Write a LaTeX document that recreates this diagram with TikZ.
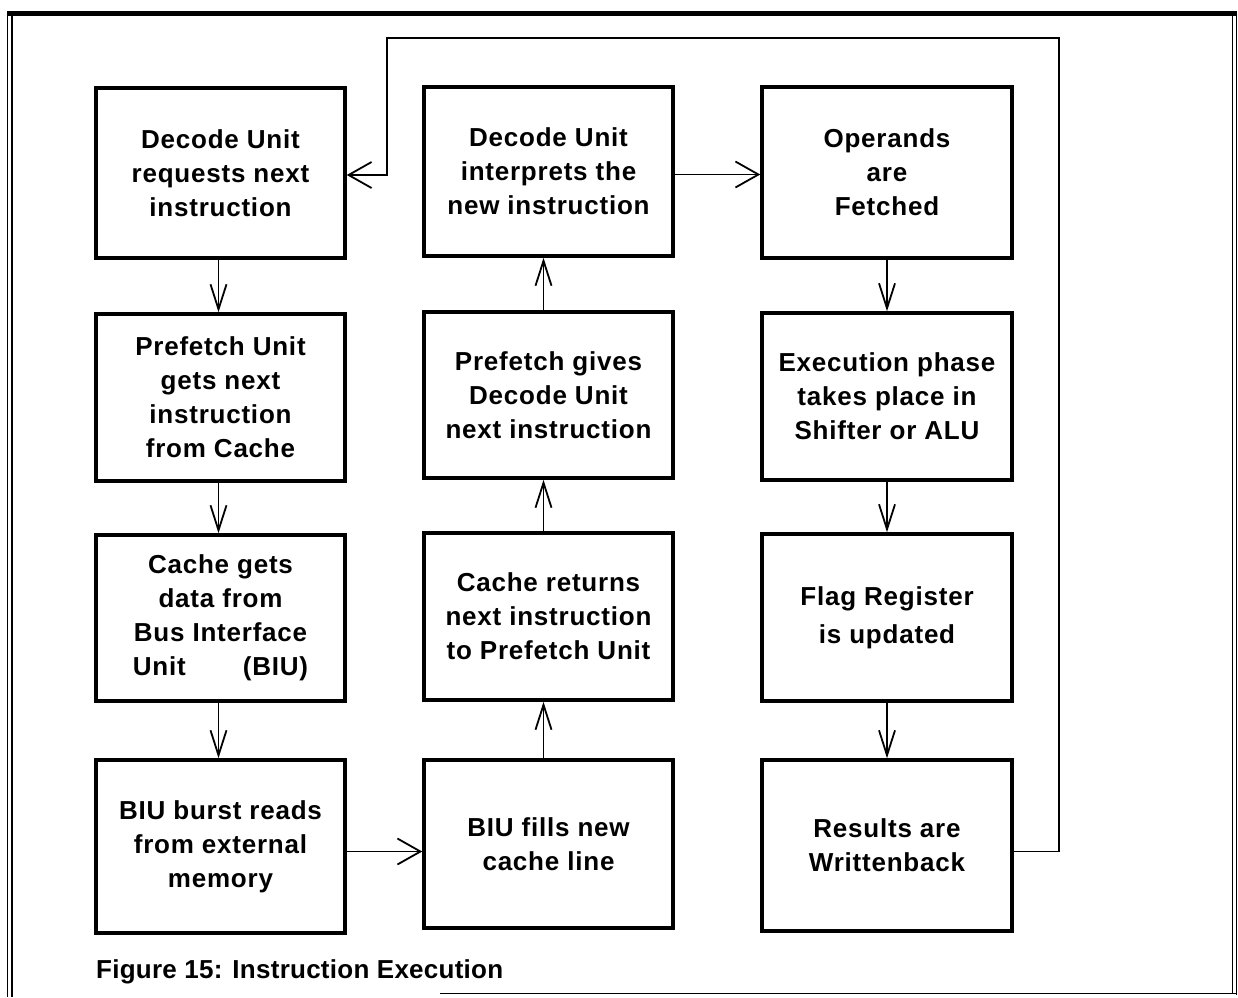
\documentclass[tikz,border=0pt]{standalone}
\usepackage{fontspec}
\usetikzlibrary{arrows.meta}
\newfontfamily\boxfont{Liberation Sans}[LetterSpace=3]
\newfontfamily\capfont{Liberation Sans}[LetterSpace=1]

\tikzset{
  stage/.style={draw, line width=3.5pt, inner sep=0pt, align=center,
    minimum width=249pt, minimum height=168pt,
    font=\boxfont\bfseries\fontsize{26}{34}\selectfont},
  flowv/.style={line width=1.8pt, -{Straight Barb[length=25pt,width=16pt,line width=1.8pt]}},
  flowh/.style={line width=1.8pt, -{Straight Barb[length=23pt,width=26pt,line width=1.8pt]}},
  frame/.style={line width=1.6pt},
}

\begin{document}
\begin{tikzpicture}[x=1pt,y=-1pt]
\useasboundingbox (0,0) rectangle (1238,997);

% outer frame
\draw[line width=5pt] (7,13.5) -- (1237,13.5);
\draw[frame] (7.5,12) -- (7.5,997);
\draw[frame] (12,14) -- (12,997);
\draw[frame] (1232.5,14) -- (1232.5,993);
\draw[frame] (1236.5,12) -- (1236.5,995);
\draw[frame] (440,993.5) -- (1237,993.5);

% first column: fetch path
\node[stage, minimum height=170pt] (dreq) at (220.5,173) {Decode Unit\\requests next\\instruction};
\node[stage, minimum height=167pt] (pfu)  at (220.5,397.5) {Prefetch Unit\\gets next\\instruction\\from Cache};
\node[stage, minimum height=166pt] (cgd)  at (220.5,618) {Cache gets\\data from\\Bus Interface\\Unit\hspace{2.2em}(BIU)};
\node[stage, minimum height=173pt] (biur) at (220.5,846.5) {BIU burst reads\\from external\\memory};

% second column: return path
\node[stage, minimum height=169pt] (dint) at (548.5,171.5) {Decode Unit\\interprets the\\new instruction};
\node[stage, minimum height=166pt] (pfg)  at (548.5,395) {Prefetch gives\\Decode Unit\\next instruction};
\node[stage, minimum height=167pt] (cret) at (548.5,616.5) {Cache returns\\next instruction\\to Prefetch Unit};
\node[stage, minimum height=168pt] (biuf) at (548.5,844) {BIU fills new\\cache line};

% third column: execution
\node[stage, minimum width=250pt, minimum height=171pt] (ops)  at (887,172.5) {Operands\\are\\Fetched};
\node[stage, minimum width=250pt, minimum height=167pt] (exe)  at (887,396.5) {Execution phase\\takes place in\\Shifter or ALU};
\node[stage, minimum width=250pt, minimum height=167pt] (flag) at (887,617.5) {Flag Register\\[4pt]is updated};
\node[stage, minimum width=250pt, minimum height=171pt] (res)  at (887,845.5) {Results are\\Writtenback};

% connectors
\draw[flowv] ([xshift=-2pt]dreq.south) -- ([xshift=-2pt]pfu.north);
\draw[flowv] ([xshift=-2pt]pfu.south) -- ([xshift=-2pt]cgd.north);
\draw[flowv] ([xshift=-2pt]cgd.south) -- ([xshift=-2pt]biur.north);
\draw[flowh] ([yshift=-5pt]biur.east) -- ([yshift=-5pt]biuf.west |- biur.east);
\draw[flowv] ([xshift=-5pt]biuf.north) -- ([xshift=-5pt]cret.south);
\draw[flowv] ([xshift=-5pt]cret.north) -- ([xshift=-5pt]pfg.south);
\draw[flowv] ([xshift=-5pt]pfg.north) -- ([xshift=-5pt]dint.south);
\draw[flowh] ([yshift=-3pt]dint.east) -- ([yshift=-3pt]ops.west |- dint.east);
\draw[flowv] (ops.south) -- (exe.north);
\draw[flowv] (exe.south) -- (flag.north);
\draw[flowv] (flag.south) -- (res.north);

\coordinate (loopR) at (1059,38);
\coordinate (loopL) at (387,38);
\draw[flowh] ([yshift=-6pt]res.east) -| (loopR) -- (loopL) |- ([yshift=-2pt]dreq.east);

% caption
\node[anchor=base west, inner sep=0pt, font=\capfont\bfseries\fontsize{26}{30}\selectfont] (cap) at (96,978) {Figure 15: Instruction Execution};
\end{tikzpicture}
\end{document}
